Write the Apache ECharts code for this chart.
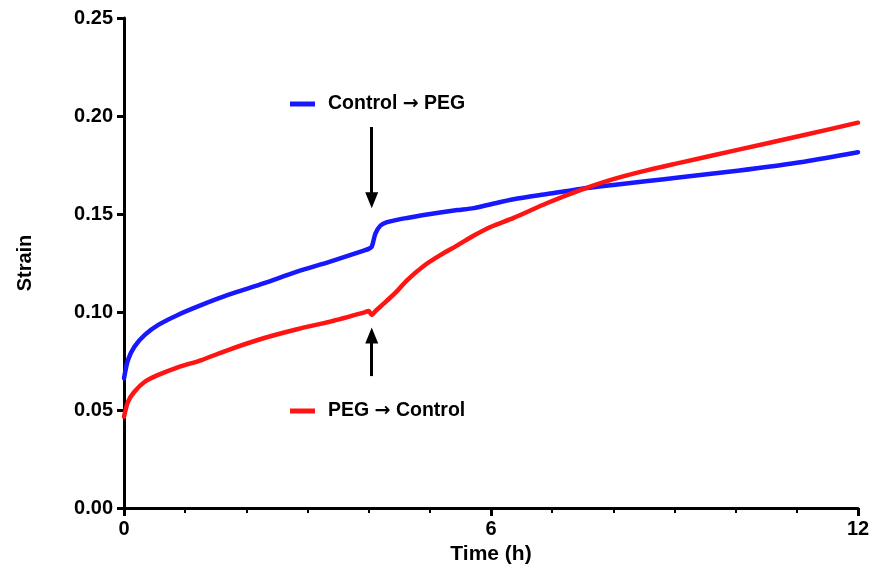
<!DOCTYPE html>
<html>
<head>
    <meta charset="utf-8">
    <title>Strain</title>
    <script src="https://cdn.jsdelivr.net/npm/echarts@6/dist/echarts.min.js"></script>
</head>
<body style="margin:0">
<div id="main" style="width: 873px;height:579px;"></div>
<script type="text/javascript">
    // time (h), shared by both curves
    var timeH = [0, 0.065, 0.17, 0.34, 0.56, 0.88, 1.27, 1.7, 2.28, 2.83, 3.37, 3.92, 4.0, 4.05, 4.11, 4.19,
        4.3, 4.46, 4.63, 4.9, 5.17, 5.45, 5.72, 6.0, 6.37, 6.92, 7.46, 8.0, 8.56, 9.1, 10.03, 11.12, 12];
    var controlToPeg = [0.0662, 0.0755, 0.0823, 0.0883, 0.0934, 0.0985, 0.1036, 0.1087, 0.1146, 0.1206, 0.1257,
        0.1313, 0.1322, 0.1333, 0.140, 0.1440, 0.1458, 0.147, 0.148, 0.1495, 0.1508, 0.152, 0.153, 0.155,
        0.1575, 0.1602, 0.1628, 0.1648, 0.1668, 0.1687, 0.1721, 0.1767, 0.1815];
    var pegToControl = [0.0466, 0.0542, 0.0593, 0.0644, 0.0679, 0.0718, 0.0755, 0.0806, 0.0866, 0.0912, 0.0951,
        0.0997, 0.1005, 0.0985, 0.1005, 0.1027, 0.1058, 0.1105, 0.1163, 0.1235, 0.129, 0.134, 0.139, 0.1435,
        0.148, 0.1556, 0.1622, 0.1678, 0.1724, 0.1762, 0.1827, 0.1903, 0.1966];
    var seriesNames = ['Control \u2192 PEG', 'PEG \u2192 Control'];
    var yTicks = [0, 0.05, 0.10, 0.15, 0.20, 0.25];
    var xLabels = [0, 6, 12];
    // arrows marking the switch: [time, from, to]
    var downArrow = [4.05, 0.1944, 0.157];
    var upArrow = [4.05, 0.0673, 0.088];

    function pairs(vals) {
        var out = [];
        for (var i = 0; i < timeH.length; i++) {
            out.push([timeH[i], vals[i]]);
        }
        return out;
    }

    var font = "'Liberation Sans', Arial, sans-serif";
    var lbl = {fontFamily: font, fontWeight: 'bold', fontSize: 20, color: '#000'};

    function legendCfg(name, top) {
        return {
            data: [name], left: 285, top: top, icon: 'rect', itemWidth: 25, itemHeight: 5,
            textStyle: {
                fontFamily: font, fontWeight: 'bold', fontSize: 19.5, color: '#000', padding: [0, 0, 0, 8],
                rich: {
                    arr: {fontFamily: "'DejaVu Sans'", fontSize: 19, color: '#000'}
                }
            },
            formatter: function (n) { return n.replace('\u2192', '{arr|\u2192}'); }
        };
    }

    var myChart = echarts.init(document.getElementById('main'));
    option = {
        animation: false,
        backgroundColor: '#fff',
        grid: {left: 124, right: 15, top: 18, bottom: 71, containLabel: false},
        legend: [legendCfg(seriesNames[0], 89), legendCfg(seriesNames[1], 396)],
        xAxis: {
            type: 'value',
            min: 0, max: 12, interval: 6,
            name: 'Time (h)', nameLocation: 'middle', nameGap: 31,
            nameTextStyle: {fontFamily: font, fontWeight: 'bold', fontSize: 21, color: '#000'},
            axisLine: {lineStyle: {color: '#000', width: 3}},
            axisTick: {show: true, length: 8, lineStyle: {color: '#000', width: 3}},
            minorTick: {show: true, splitNumber: 6, length: 5, lineStyle: {color: '#000', width: 2}},
            splitLine: {show: false},
            axisLabel: {
                margin: 11, fontFamily: font, fontWeight: 'bold', fontSize: 20, color: '#000',
                formatter: function (v) { return xLabels.indexOf(v) >= 0 ? String(v) : ''; }
            }
        },
        yAxis: {
            type: 'value',
            min: yTicks[0], max: yTicks[yTicks.length - 1], interval: 0.05,
            name: 'Strain', nameLocation: 'middle', nameGap: 89,
            nameTextStyle: lbl,
            axisLine: {show: true, lineStyle: {color: '#000', width: 3}},
            axisTick: {show: true, length: 7, lineStyle: {color: '#000', width: 3}},
            splitLine: {show: false},
            axisLabel: {
                margin: 11, fontFamily: font, fontWeight: 'bold', fontSize: 20, color: '#000',
                formatter: function (v) { return v.toFixed(2); }
            }
        },
        series: [
            {
                name: seriesNames[0], type: 'line', data: pairs(controlToPeg),
                smooth: 0.25, showSymbol: false, symbol: 'none',
                itemStyle: {color: '#1818ff'},
                lineStyle: {color: '#1818ff', width: 4.5, join: 'round', cap: 'round'},
                markLine: {
                    silent: true, symbol: ['none', 'triangle'], symbolSize: [13, 16],
                    label: {show: false},
                    lineStyle: {color: '#000', width: 3, type: 'solid'},
                    data: [[{coord: [downArrow[0], downArrow[1]]}, {coord: [downArrow[0], downArrow[2]]}]]
                }
            },
            {
                name: seriesNames[1], type: 'line', data: pairs(pegToControl),
                smooth: 0.25, showSymbol: false, symbol: 'none',
                itemStyle: {color: '#ff1414'},
                lineStyle: {color: '#ff1414', width: 4.5, join: 'round', cap: 'round'},
                markLine: {
                    silent: true, symbol: ['none', 'triangle'], symbolSize: [13, 16],
                    label: {show: false},
                    lineStyle: {color: '#000', width: 3, type: 'solid'},
                    data: [[{coord: [upArrow[0], upArrow[1]]}, {coord: [upArrow[0], upArrow[2]]}]]
                }
            }
        ]
    };
    myChart.setOption(option);
</script>
</body>
</html>
